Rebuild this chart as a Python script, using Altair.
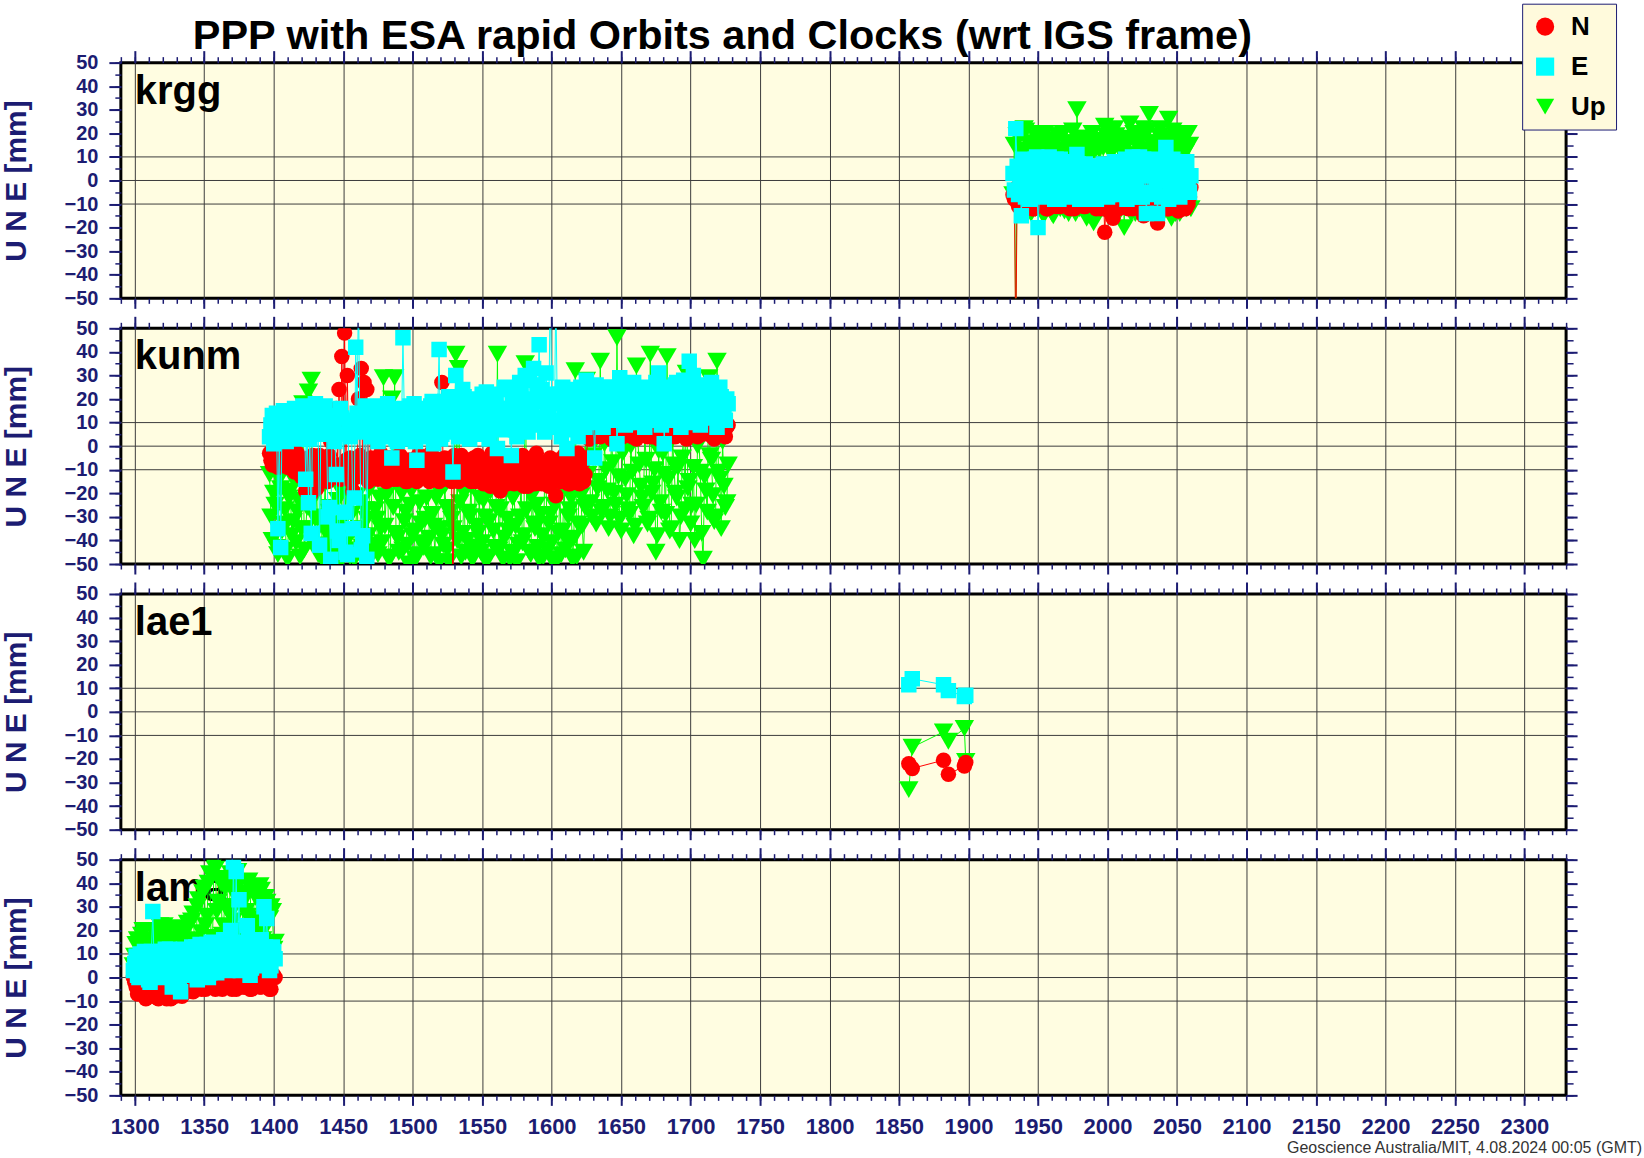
import altair as alt
import pandas as pd

TITLE = "PPP with ESA rapid Orbits and Clocks (wrt IGS frame)"
FOOTER = "Geoscience Australia/MIT, 4.08.2024 00:05 (GMT)"
Y_TITLE = "U N E [mm]"
COMPONENTS = ["N", "E", "Up"]
COLORS = ["#ff0000", "#00ffff", "#00ff00"]
SHAPES = ["circle", "square", "triangle-down"]
SIZES = [240, 240, 380]

X_TICKS = [1300, 1350, 1400, 1450, 1500, 1550, 1600, 1650, 1700, 1750, 1800,
           1850, 1900, 1950, 2000, 2050, 2100, 2150, 2200, 2250, 2300]
X_MINOR = list(range(1290, 2331, 10))
Y_TICKS = [-50, -40, -30, -20, -10, 0, 10, 20, 30, 40, 50]
Y_MINOR = list(range(-50, 51, 5))
H_GRID = [-10, 0, 10]

# ---------------- krgg ----------------
KRGG_WEEK = [1932, 1934, 1936, 1938, 1940, 1942, 1944, 1946, 1948, 1950,
             1952, 1954, 1956, 1958, 1960, 1962, 1964, 1966, 1968, 1970,
             1972, 1974, 1976, 1978, 1980, 1982, 1984, 1986, 1988, 1990,
             1992, 1994, 1996, 1998, 2000, 2002, 2004, 2006, 2008, 2010,
             2012, 2014, 2016, 2018, 2020, 2022, 2024, 2026, 2028, 2030,
             2032, 2034, 2036, 2038, 2040, 2042, 2044, 2046, 2048, 2050,
             2052, 2054, 2056, 2058, 2060]
KRGG_N = [-6, -70, -11, -3, 0, -9, -5, -12, -1, -7,
          -10, -2, -12, -6, 1, -9, -4, -11, -7, 0,
          -10, -3, -12, -5, -1, -9, -11, -4, 0, -8,
          -12, -2, -6, -22, -10, -3, -16, -8, -12, 0,
          -5, -10, -2, -12, -7, 1, -9, -15, -4, -11,
          -1, -8, -18, -3, -10, -6, -12, 0, -9, -4,
          -11, -2, -12, -10, -3]
KRGG_E = [3, 22, -6, -15, 8, -2, -8, 4, 9, -20,
          1, -7, 6, 10, -4, -8, 3, 9, -1, -7,
          5, 8, -3, 11, -8, 2, 7, -5, 0, 6,
          -8, 3, -2, 5, -7, 1, 6, -6, 3, 8,
          -4, -8, 5, 10, -1, -7, 4, 9, -14, 2,
          8, -6, -14, 6, 0, 14, -8, 4, 7, -3,
          -7, 5, 8, -4, 2]
KRGG_U = [-6, -70, 18, 12, 22, -13, 15, 11, -12, 20,
          14, -15, 17, 12, -14, 13, 19, -12, 20, 11,
          -14, 16, 12, 30, -12, 15, 18, -14, 11, -18,
          16, 13, -12, 23, 14, -14, 17, 19, -13, 12,
          -20, 16, 24, 11, -14, 18, 13, 22, -13, 28,
          12, 16, -14, 22, 18, -12, 26, -16, 14, 20,
          -14, 17, 12, 20, -12]
# krgg, in-between epochs
KRGG_WEEK_B = [1933, 1935, 1937, 1939, 1941, 1943, 1945, 1947, 1949, 1951,
               1953, 1955, 1957, 1959, 1961, 1963, 1965, 1967, 1969, 1971,
               1973, 1975, 1977, 1979, 1981, 1983, 1985, 1987, 1989, 1991,
               1993, 1995, 1997, 1999, 2001, 2003, 2005, 2007, 2009, 2011,
               2013, 2015, 2017, 2019, 2021, 2023, 2025, 2027, 2029, 2031,
               2033, 2035, 2037, 2039, 2041, 2043, 2045, 2047, 2049, 2051,
               2053, 2055, 2057, 2059]
KRGG_N_B = [-8, -3, -11, -6, -1, -10, -4, -12, -7, -2,
            -9, -5, -12, -1, -8, -11, -3, -6, -10, -2,
            -12, -7, -4, -9, -1, -11, -6, -3, -10, -8,
            -2, -12, -5, -9, -13, -4, -7, -11, -1, -9,
            -6, -12, -3, -8, -11, -2, -10, -5, -12, -7,
            -1, -9, -11, -4, -8, -12, -3, -10, -6, -13,
            -2, -9, -11, -7]
KRGG_E_B = [-4, 6, 0, 9, -7, 3, 7, -3, 10, -6,
            2, 8, -5, 5, 0, 9, -8, 4, 6, -2,
            8, -6, 1, 7, -4, 4, -1, 6, -8, 2,
            5, -4, 7, 0, -6, 4, 8, -3, 6, 1,
            9, -6, 3, 7, -2, 10, -7, 2, 6, -5,
            9, 0, 5, -7, 8, 3, -5, 9, 1, -6,
            6, 0, 8, -5]
KRGG_U_B = [15, 19, -13, 13, 21, 16, -14, 12, 18, 14,
            -12, 20, 15, 11, -15, 17, 13, 19, -13, 16,
            12, 21, -14, 14, 18, 11, -16, 15, 20, 13,
            -12, 17, 14, 19, -15, 12, 22, 16, -13, 18,
            14, 11, -14, 20, 15, 17, -12, 13, 21, 16,
            -15, 12, 19, 14, -13, 18, 15, 21, -14, 13,
            17, 20, -12, 15]

# ---------------- kunm ----------------
KUNM_WEEK = [1397, 1399, 1401, 1403, 1405, 1407, 1409, 1411, 1413, 1415,
             1417, 1419, 1421, 1423, 1425, 1427, 1429, 1431, 1433, 1435,
             1437, 1439, 1441, 1443, 1445, 1447, 1449, 1451, 1453, 1455,
             1457, 1459, 1461, 1463, 1465, 1467, 1469, 1471, 1473, 1475,
             1477, 1479, 1481, 1483, 1485, 1487, 1489, 1491, 1493, 1495,
             1497, 1499, 1501, 1503, 1505, 1507, 1509, 1511, 1513, 1515,
             1517, 1519, 1521, 1523, 1525, 1527, 1529, 1531, 1533, 1535,
             1537, 1539, 1541, 1543, 1545, 1547, 1549, 1551, 1553, 1555,
             1557, 1559, 1561, 1563, 1565, 1567, 1569, 1571, 1573, 1575,
             1577, 1579, 1581, 1583, 1585, 1587, 1589, 1591, 1593, 1595,
             1597, 1599, 1601, 1603, 1605, 1607, 1609, 1611, 1613, 1615,
             1617, 1619, 1621, 1623, 1625, 1627, 1629, 1631, 1633, 1635,
             1637, 1639, 1641, 1643, 1645, 1647, 1649, 1651, 1653, 1655,
             1657, 1659, 1661, 1663, 1665, 1667, 1669, 1671, 1673, 1675,
             1677, 1679, 1681, 1683, 1685, 1687, 1689, 1691, 1693, 1695,
             1697, 1699, 1701, 1703, 1705, 1707, 1709, 1711, 1713, 1715,
             1717, 1719, 1721, 1723, 1725, 1727]
KUNM_N = [-3, -8, -5, -9, -2, -7, -4, -9, -6, -11,
          -3, -12, -8, -19, -5, -20, -10, -18, -4, -14,
          -7, -15, 2, 5, 16, 24, 38, 48, 30, -5,
          -19, -8, 20, 33, 27, 24, 16, -12, -6, -14,
          -3, -10, -15, -5, -12, -8, -14, -4, -11, -15,
          -6, -13, -9, -15, -4, -11, -7, -14, -3, -12,
          -9, -15, 27, -5, -13, -8, -65, -11, -15, -4,
          -10, -14, -6, -12, -15, -4, -11, -16, -7, -13,
          -3, -15, -17, -19, -9, -14, -5, -12, -16, -8,
          -15, -4, -11, -17, -7, -14, -3, -12, -16, -9,
          -15, -5, -12, -21, -8, -15, -4, -13, -16, -7,
          -14, -3, -11, -15, -5, 3, 10, 6, 12, 4,
          9, 7, 12, 3, 10, 6, 11, 4, 8, 12,
          5, 10, 3, 11, 7, 12, 4, 9, 6, 11,
          3, 10, 7, 12, 5, 9, 4, 11, 8, 12,
          3, 10, 6, 11, 4, 9, 7, 12, 5, 10,
          3, 11, 6, 12, 4, 9]
KUNM_E = [4, 13, 8, -35, -43, 15, 2, 10, 6, 16,
          3, 12, 17, -14, -24, -37, 9, 14, -42, 5,
          17, -30, -48, 8, -12, -40, 12, -28, -46, 4,
          -35, 42, 65, -44, 10, -48, 15, 6, 12, 2,
          17, 9, 4, 14, -5, 11, 2, 16, 46, 7,
          13, 3, 18, -6, 9, 15, 4, 12, 17, 1,
          10, 41, 5, 19, 13, 8, -11, 30, 4, 15,
          21, 9, 3, 18, 12, 20, 5, 14, 23, 3,
          10, 22, -1, 16, 7, 24, 12, -4, 19, 4,
          27, 13, 30, 6, 20, 33, 10, 43, 24, 6,
          16, 70, 8, 65, 22, 4, 14, -1, 23, 9,
          17, 4, 25, 12, 28, 10, 20, -5, 24, 14,
          8, 25, 17, 11, 22, 1, 29, 13, 9, 24,
          16, 27, 10, 20, 25, 8, 15, 22, 12, 27,
          31, 9, 1, 24, 16, 11, 26, 19, 8, 28,
          14, 36, 10, 21, 26, 9, 17, 24, 12, 27,
          15, 8, 25, 19, 11, 18]
KUNM_U = [-12, -40, -25, -46, -18, -33, -44, -22, -38, -15,
          -28, -47, 18, -35, 23, 28, -42, -20, -30, -48,
          -16, -38, -26, -45, -33, -50, -20, -41, -29, -47,
          -14, -36, -44, -24, -49, -31, -18, -42, -27, -46,
          -35, 29, -21, -48, 20, 29, -39, -13, -44, -28,
          -50, -19, -36, -46, -24, -41, -31, -15, -47, -34,
          -22, -49, -38, -17, -44, -28, -35, 39, 33, -47,
          -20, -40, -30, -48, -13, -37, -45, -23, -49, -32,
          -16, -43, 39, -27, -48, -11, -36, -45, -21, -49,
          -30, -41, 35, -18, -46, -33, -25, -48, -38, -12,
          -44, -29, -49, -20, -37, -46, -15, -40, -27, -48,
          32, -33, -21, -45, 28, -5, -30, 2, -18, 36,
          -26, -10, -35, 4, -20, 46, -31, -3, -14, -27,
          0, -38, 34, -8, -22, 5, -33, 39, -16, -45,
          -2, -28, -12, 38, -36, 3, -20, -9, -30, 6,
          31, -15, -25, -40, 0, -11, -48, -19, 29, -6,
          -32, 36, -14, 2, -26, -8]
# kunm, in-between epochs
KUNM_WEEK_B = [1398, 1400, 1402, 1404, 1406, 1408, 1410, 1412, 1414, 1416,
               1418, 1420, 1422, 1424, 1426, 1428, 1430, 1432, 1434, 1436,
               1438, 1440, 1442, 1444, 1446, 1448, 1450, 1452, 1454, 1456,
               1458, 1460, 1462, 1464, 1466, 1468, 1470, 1472, 1474, 1476,
               1478, 1480, 1482, 1484, 1486, 1488, 1490, 1492, 1494, 1496,
               1498, 1500, 1502, 1504, 1506, 1508, 1510, 1512, 1514, 1516,
               1518, 1520, 1522, 1524, 1526, 1528, 1530, 1532, 1534, 1536,
               1538, 1540, 1542, 1544, 1546, 1548, 1550, 1552, 1554, 1556,
               1558, 1560, 1562, 1564, 1566, 1568, 1570, 1572, 1574, 1576,
               1578, 1580, 1582, 1584, 1586, 1588, 1590, 1592, 1594, 1596,
               1598, 1600, 1602, 1604, 1606, 1608, 1610, 1612, 1614, 1616,
               1618, 1620, 1622, 1624, 1626, 1628, 1630, 1632, 1634, 1636,
               1638, 1640, 1642, 1644, 1646, 1648, 1650, 1652, 1654, 1656,
               1658, 1660, 1662, 1664, 1666, 1668, 1670, 1672, 1674, 1676,
               1678, 1680, 1682, 1684, 1686, 1688, 1690, 1692, 1694, 1696,
               1698, 1700, 1702, 1704, 1706, 1708, 1710, 1712, 1714, 1716,
               1718, 1720, 1722, 1724, 1726]
KUNM_N_B = [-6, -4, -8, -2, -7, -5, -9, -3, -10, -7,
            -5, -13, -9, -6, -15, -4, -11, -8, -13, -6,
            -10, -4, -12, 8, -8, -14, 12, -6, -10, -15,
            -9, -13, -4, -10, -7, -15, -5, -9, -12, -8,
            -5, -13, -10, -6, -14, -8, -4, -12, -9, -15,
            -6, -11, -14, -4, -9, -13, -7, -15, -10, -5,
            -12, -8, -14, -6, -11, -15, -4, -9, -13, -7,
            -12, -8, -15, -5, -10, -13, -6, -14, -9, -17,
            -7, -12, -15, -4, -10, -16, -8, -13, -6, -15,
            -11, -17, -8, -13, -5, -16, -10, -14, -7, -12,
            -17, -9, -13, -6, -15, -11, -8, -16, -12, -5,
            -10, -16, -7, -12, 5, 8, 4, 11, 7, 9,
            5, 11, 8, 4, 12, 7, 9, 5, 10, 8,
            4, 12, 6, 9, 5, 11, 8, 4, 10, 7,
            12, 6, 9, 4, 11, 8, 5, 10, 7, 12,
            4, 9, 6, 11, 8, 5, 12, 7, 9, 4,
            10, 7, 11, 5, 8]
KUNM_E_B = [9, 1, 14, 6, 11, 3, 15, 8, 12, 4,
            14, 7, 16, 10, 3, 13, 18, 6, 11, 15,
            8, -26, 13, 2, -36, 16, 5, -45, 11, 9,
            -22, 14, 6, -38, 17, 11, 4, 13, 8, 16,
            5, 12, 18, 7, 10, 3, 15, 9, 13, 6,
            17, 11, 2, 14, 8, 16, 5, 12, 19, 7,
            14, 3, 17, 10, 21, 6, 13, 18, 8, 24,
            11, 16, 6, 19, 13, 9, 22, 15, 6, 18,
            12, 20, 8, 16, 25, 10, 14, 21, 7, 17,
            23, 11, 18, 28, 14, 9, 26, 19, 12, 31,
            15, 22, 11, 18, 9, 25, 16, 7, 20, 13,
            24, 10, 19, 8, 16, 22, 12, 26, 18, 14,
            21, 11, 25, 16, 20, 13, 23, 18, 10, 26,
            14, 21, 17, 12, 24, 19, 11, 23, 16, 20,
            13, 25, 18, 12, 22, 15, 27, 11, 20, 17,
            24, 13, 30, 16, 21, 12, 23, 18, 14, 22,
            17, 12, 21, 15, 20]
KUNM_U_B = [-30, -20, -43, -14, -36, -27, -48, -19, -32, -41,
            -23, -35, -44, -26, 15, -39, -31, -46, -17, -34,
            -42, -28, -37, -47, -23, -33, -44, -16, -39, -29,
            -48, -21, -35, -43, -27, -38, -13, -45, -31, -22,
            -41, -34, -17, -47, -26, -37, -45, -20, -32, -42,
            -25, -38, -48, -14, -33, -43, -22, -39, -29, -46,
            -18, -35, -42, -26, -49, -31, -15, -40, -24, -37,
            -45, -28, -17, -43, -34, -22, -41, -30, -47, -19,
            -36, -26, -44, -14, -39, -31, -48, -22, -34, -42,
            -17, -38, -27, -45, -21, -35, -43, -29, -47, -16,
            -33, -41, -25, -48, -19, -36, -44, -30, -22, -39,
            -47, -14, -34, -26, -12, -24, -4, -33, -15, -28,
            1, -19, -30, -7, -25, -13, -36, -2, -21, -29,
            -11, -34, 3, -17, -26, -6, -31, -20, -10, -38,
            -24, -3, -29, -14, -35, -8, -22, -40, -5, -27,
            -18, -33, -9, -25, 2, -37, -13, -28, -4, -21,
            -30, -11, -35, -17, -24]

# ---------------- lae1 ----------------
LAE1_WEEK = [1857, 1859.5, 1882, 1885.5, 1897, 1898]
LAE1_N = [-22, -24, -20.5, -26.5, -23, -21.5]
LAE1_E = [11.5, 14, 11.5, 9, 6.5, 7]
LAE1_U = [-33, -15, -8.5, -12.5, -7, -21]

# ---------------- lama ----------------
LAMA_WEEK = [1299, 1301, 1303, 1305, 1307, 1309, 1311, 1313, 1315, 1317,
             1319, 1321, 1323, 1325, 1327, 1329, 1331, 1333, 1335, 1337,
             1339, 1341, 1343, 1345, 1347, 1349, 1351, 1353, 1355, 1357,
             1359, 1361, 1363, 1365, 1367, 1369, 1371, 1373, 1375, 1377,
             1379, 1381, 1383, 1385, 1387, 1389, 1391, 1393, 1395, 1397,
             1399, 1401]
LAMA_N = [0, -4, 2, -6, -2, -7, 1, -8, -4, -9,
          0, -6, -9, 2, -5, -8, -1, -7, 2, -6,
          -3, -5, 1, -4, 2, -3, -5, 0, 3, -4,
          -2, 1, -5, 2, -3, -4, 1, -5, 3, -2,
          -4, 1, -5, 2, -3, 0, -4, 3, -2, -5,
          1, 0]
LAMA_E = [3, 9, 0, 6, 11, 2, -2, 28, 8, 4,
          11, 0, 7, 12, -4, 3, 9, -6, 12, 5,
          1, 13, 8, -1, 14, 4, 10, 0, 15, 7,
          2, 14, 9, 16, 3, 20, 49, 45, 33, 8,
          14, 22, 1, 11, 15, 5, 16, 30, 25, 3,
          13, 8]
LAMA_U = [5, 14, 9, 18, 3, 16, 11, 20, 6, 17,
          13, 22, 4, 19, 10, 21, 7, 18, 14, 20,
          3, 24, 16, 30, 9, 36, 22, 40, 14, 48,
          28, 42, 18, 38, 30, 44, 24, 35, 40, 16,
          33, 26, 38, 14, 34, 22, 37, 20, 32, 25,
          28, 15]
# lama, in-between epochs
LAMA_WEEK_B = [1300, 1302, 1304, 1306, 1308, 1310, 1312, 1314, 1316, 1318,
               1320, 1322, 1324, 1326, 1328, 1330, 1332, 1334, 1336, 1338,
               1340, 1342, 1344, 1346, 1348, 1350, 1352, 1354, 1356, 1358,
               1360, 1362, 1364, 1366, 1368, 1370, 1372, 1374, 1376, 1378,
               1380, 1382, 1384, 1386, 1388, 1390, 1392, 1394, 1396, 1398,
               1400]
LAMA_N_B = [-2, -7, 1, -5, -9, 0, -6, -3, -8, 1,
            -4, -7, -1, -9, 0, -6, -3, -8, 1, -5,
            -2, -6, 0, -3, -5, 1, -2, -4, 2, -5,
            -1, -3, 0, -4, 2, -5, -1, -3, 1, -4,
            -2, 0, -5, 1, -3, -4, 2, -1, -3, -5,
            1]
LAMA_E_B = [6, 1, 10, 4, 8, -1, 11, 5, 2, 9,
            6, 12, 1, 8, 3, 10, -3, 7, 11, 2,
            9, 5, 13, 3, 10, 7, 14, 2, 11, 6,
            13, 4, 16, 8, 12, 5, 15, 10, 3, 13,
            7, 16, 4, 12, 9, 15, 6, 13, 10, 5,
            11]
LAMA_U_B = [9, 16, 7, 20, 12, 15, 5, 19, 13, 22,
            8, 17, 14, 21, 6, 18, 12, 20, 9, 23,
            15, 27, 11, 33, 19, 38, 26, 44, 17, 46,
            32, 40, 22, 42, 27, 37, 30, 45, 20, 36,
            28, 41, 18, 36, 25, 39, 16, 34, 26, 30,
            12]

STATIONS = [
    ("krgg", [(KRGG_WEEK, KRGG_N, KRGG_E, KRGG_U),
              (KRGG_WEEK_B, KRGG_N_B, KRGG_E_B, KRGG_U_B)]),
    ("kunm", [(KUNM_WEEK, KUNM_N, KUNM_E, KUNM_U),
              (KUNM_WEEK_B, KUNM_N_B, KUNM_E_B, KUNM_U_B)]),
    ("lae1", [(LAE1_WEEK, LAE1_N, LAE1_E, LAE1_U)]),
    ("lama", [(LAMA_WEEK, LAMA_N, LAMA_E, LAMA_U),
              (LAMA_WEEK_B, LAMA_N_B, LAMA_E_B, LAMA_U_B)]),
]

# ---------------- styling ----------------
NAVY = "#1c1c72"
FONT = "Liberation Sans"
GRID = "#3c3c3c"
W, H = 1447, 236
XS = alt.Scale(domain=[1290, 2330], nice=False, zero=False)
YS = alt.Scale(domain=[-50, 50], nice=False, zero=False)

LEG = alt.Legend(title=None, orient="none", legendX=1403, legendY=-59,
                 fillColor="#fffadc", strokeColor=NAVY, padding=10,
                 labelFont=FONT, labelFontSize=26, labelFontWeight="bold",
                 labelColor="black", symbolSize=330, rowPadding=14,
                 labelOffset=13, symbolStrokeWidth=0, symbolOpacity=1)


def x_axis(orient, values, size, width, labels=False, grid=False):
    kw = dict(orient=orient, values=values, tickSize=size, tickWidth=width,
              tickColor=NAVY, domain=False, grid=grid, labels=labels,
              title=None, zindex=0)
    if grid:
        kw.update(gridColor=GRID, gridWidth=1, gridOpacity=1)
    if labels:
        kw.update(format="d", labelFont=FONT, labelFontSize=22,
                  labelFontWeight="bold", labelColor=NAVY, labelPadding=11,
                  labelOverlap=False)
    return alt.Axis(**kw)


def y_axis(orient, values, size, width, labels=False):
    kw = dict(orient=orient, values=values, tickSize=size, tickWidth=width,
              tickColor=NAVY, domain=False, grid=False, labels=labels,
              title=None, zindex=0)
    if labels:
        kw.update(format="d", labelFont=FONT, labelFontSize=20,
                  labelFontWeight="bold", labelColor=NAVY, labelPadding=11,
                  title=Y_TITLE, titleFont=FONT, titleFontSize=30,
                  titleFontWeight="bold", titleColor=NAVY, titleX=-104,
                  titleY=H / 2, titleAngle=270, titleAlign="center",
                  titleBaseline="middle")
    return alt.Axis(**kw)


def series(df, comp, kind, xax, yax, legend=False):
    i = COMPONENTS.index(comp)
    base = alt.Chart(df).transform_filter(alt.datum.comp == comp)
    x = alt.X("week:Q", scale=XS, axis=xax)
    y = alt.Y("val:Q", scale=YS, axis=yax)
    if kind == "line":
        return base.mark_line(color=COLORS[i], strokeWidth=1, clip=True).encode(x=x, y=y)
    if legend:
        col = alt.Color("comp:N", scale=alt.Scale(domain=COMPONENTS, range=COLORS), legend=LEG)
        shp = alt.Shape("comp:N", scale=alt.Scale(domain=COMPONENTS, range=SHAPES), legend=LEG)
    else:
        col = alt.value(COLORS[i])
        shp = alt.value(SHAPES[i])
    return base.mark_point(filled=True, opacity=1, size=SIZES[i], strokeWidth=0,
                           clip=True).encode(x=x, y=y, color=col, shape=shp)


def panel(name, sets, first, last):
    rows = []
    for weeks, n, e, u in sets:
        for comp, vals in zip(COMPONENTS, (n, e, u)):
            rows += [{"week": w, "comp": comp, "val": v} for w, v in zip(weeks, vals)]
    df = pd.DataFrame(rows).sort_values("week", kind="stable")

    hgrid = alt.Chart(pd.DataFrame({"g": H_GRID})).mark_rule(
        color=GRID, strokeWidth=1).encode(y=alt.Y("g:Q", scale=YS, axis=None))
    label = alt.Chart(pd.DataFrame({"t": [name]})).mark_text(
        align="left", baseline="alphabetic", font=FONT, fontSize=40,
        fontWeight="bold", color="black").encode(
        text="t:N", x=alt.value(14), y=alt.value(41))

    layers = [hgrid, label,
              series(df, "Up", "line",
                     x_axis("bottom", X_TICKS, 10, 2, labels=last, grid=True),
                     y_axis("left", Y_TICKS, 12, 2, labels=True)),
              series(df, "Up", "point",
                     x_axis("bottom", X_MINOR, 5, 1.5),
                     y_axis("left", Y_MINOR, 6, 1.5), legend=first),
              series(df, "N", "line",
                     x_axis("top", X_TICKS, 12, 2),
                     y_axis("right", Y_TICKS, 11, 2)),
              series(df, "N", "point",
                     x_axis("top", X_MINOR, 6, 1.5),
                     y_axis("right", Y_MINOR, 7, 1.5), legend=first),
              series(df, "E", "line", None, None),
              series(df, "E", "point", None, None, legend=first)]

    if first:
        layers.append(alt.Chart(pd.DataFrame({"t": [TITLE]})).mark_text(
            align="left", baseline="alphabetic", font=FONT, fontSize=41.5,
            fontWeight="bold", color="black").encode(
            text="t:N", x=alt.value(72), y=alt.value(-14)))
    if last:
        layers.append(alt.Chart(pd.DataFrame({"t": [FOOTER]})).mark_text(
            align="right", baseline="alphabetic", font=FONT, fontSize=16,
            color="#333333").encode(
            text="t:N", x=alt.value(1523), y=alt.value(294)))

    return alt.layer(*layers).resolve_axis(x="independent", y="independent").properties(
        width=W, height=H)


panels = [panel(name, sets, i == 0, i == len(STATIONS) - 1)
          for i, (name, sets) in enumerate(STATIONS)]

chart = alt.vconcat(*panels, spacing=30, bounds="flush").properties(
    padding={"left": 0, "top": 2, "right": 0, "bottom": 0},
    background="white",
).configure_view(stroke="black", strokeWidth=3, fill="#fffde1")

chart.save("out.html", embed_options={"renderer": "svg", "actions": False})
